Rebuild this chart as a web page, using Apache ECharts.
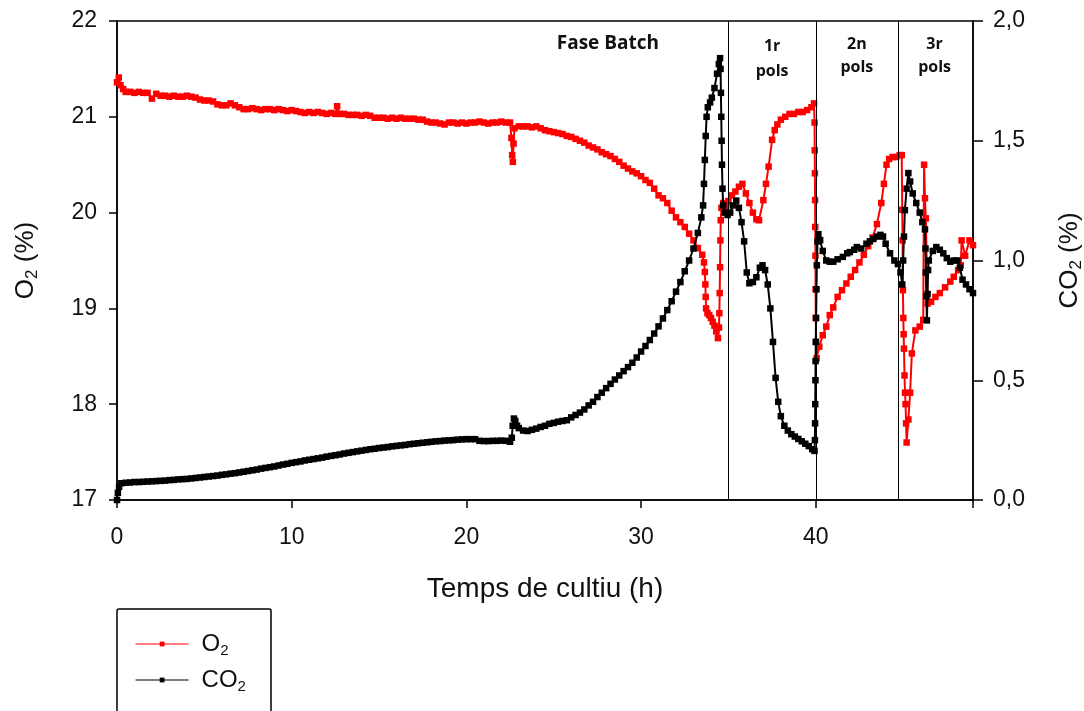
<!DOCTYPE html>
<html>
<head>
<meta charset="utf-8">
<script src="https://cdn.jsdelivr.net/npm/echarts@6/dist/echarts.min.js"></script>
<style>
html,body{margin:0;padding:0;background:#fff;overflow:hidden;}
#chart{width:1084px;height:711px;}
</style>
</head>
<body>
<div id="chart"></div>
<script>
// O2 (%) readings: [time (h), value]
const o2Data = [
[0,21.36],[0.1,21.41],[0.2,21.33],[0.35,21.29],[0.5,21.26],[0.75,21.26],[1.0,21.25],[1.25,21.26],[1.5,21.25],[1.75,21.25],
[2.0,21.19],[2.25,21.24],[2.5,21.22],[2.75,21.22],[3.0,21.21],[3.25,21.22],[3.5,21.21],[3.75,21.21],[4.0,21.22],[4.25,21.21],
[4.5,21.20],[4.75,21.18],[5.0,21.17],[5.25,21.17],[5.5,21.16],[5.75,21.13],[6.0,21.12],[6.25,21.12],[6.5,21.14],[6.75,21.12],
[7.0,21.10],[7.25,21.08],[7.5,21.08],[7.75,21.09],[8.0,21.08],[8.25,21.07],[8.5,21.08],[8.75,21.08],[9.0,21.07],[9.25,21.08],
[9.5,21.07],[9.75,21.06],[10.0,21.07],[10.25,21.06],[10.5,21.05],[10.75,21.04],[11.0,21.05],[11.25,21.04],[11.5,21.05],[11.75,21.04],
[12.0,21.03],[12.25,21.04],[12.5,21.03],[12.6,21.11],[12.75,21.03],[13.0,21.03],[13.25,21.02],[13.5,21.02],[13.75,21.02],[14.0,21.01],
[14.25,21.02],[14.5,21.01],[14.75,20.99],[15.0,20.99],[15.25,20.99],[15.5,20.98],[15.75,20.99],[16.0,20.98],[16.25,20.99],[16.5,20.98],
[16.75,20.98],[17.0,20.98],[17.25,20.97],[17.5,20.97],[17.75,20.95],[18.0,20.94],[18.25,20.94],[18.5,20.93],[18.75,20.92],[19.0,20.94],
[19.25,20.94],[19.5,20.93],[19.75,20.94],[20.0,20.93],[20.25,20.94],[20.5,20.94],[20.75,20.95],[21.0,20.94],[21.25,20.93],[21.5,20.94],
[21.75,20.94],[22.0,20.95],[22.25,20.94],[22.5,20.94],[22.58,20.78],[22.62,20.6],[22.66,20.53],[22.7,20.72],[22.75,20.88],[23.0,20.9],
[23.25,20.9],[23.5,20.9],[23.75,20.89],[24.0,20.9],[24.25,20.88],[24.5,20.86],[24.75,20.85],[25.0,20.84],[25.25,20.83],[25.5,20.82],
[25.75,20.8],[26.0,20.79],[26.25,20.77],[26.5,20.75],[26.75,20.73],[27.0,20.7],[27.25,20.68],[27.5,20.66],[27.75,20.63],[28.0,20.61],
[28.25,20.59],[28.5,20.56],[28.75,20.53],[29.0,20.49],[29.25,20.46],[29.5,20.43],[29.75,20.41],[30.0,20.38],[30.25,20.34],[30.5,20.31],
[30.75,20.25],[31.0,20.18],[31.25,20.15],[31.5,20.1],[31.75,20.02],[32.0,19.95],[32.25,19.9],[32.5,19.85],[32.75,19.78],[33.0,19.71],
[33.25,19.63],[33.5,19.56],[33.6,19.48],[33.65,19.38],[33.68,19.25],[33.7,19.12],[33.72,19.0],[33.8,18.95],[33.9,18.93],[34.0,18.9],
[34.1,18.86],[34.2,18.82],[34.3,18.76],[34.4,18.69],[34.46,18.8],[34.48,18.95],[34.5,19.16],[34.52,19.43],[34.54,19.71],[34.56,19.92],
[34.6,20.05],[34.7,20.1],[34.85,20.05],[35.0,20.12],[35.2,20.18],[35.4,20.22],[35.6,20.27],[35.8,20.3],[36.0,20.2],[36.2,20.1],
[36.4,20.0],[36.6,19.93],[36.75,19.92],[37.0,20.13],[37.15,20.3],[37.3,20.48],[37.5,20.76],[37.65,20.86],[37.8,20.92],[38.0,20.97],
[38.25,21.0],[38.5,21.03],[38.75,21.03],[39.0,21.05],[39.25,21.05],[39.5,21.07],[39.75,21.1],[39.9,21.14],[39.93,20.94],[39.94,20.65],
[39.95,20.41],[39.96,20.13],[39.97,19.85],[39.98,19.55],[39.99,19.2],[40.0,18.9],[40.02,18.65],[40.05,18.48],[40.2,18.6],[40.4,18.72],
[40.6,18.81],[40.8,18.93],[41.0,19.01],[41.25,19.12],[41.5,19.19],[41.75,19.26],[42.0,19.33],[42.25,19.4],[42.5,19.48],[42.75,19.56],
[43.0,19.65],[43.25,19.74],[43.5,19.88],[43.75,20.1],[43.9,20.3],[44.05,20.5],[44.2,20.56],[44.4,20.58],[44.6,20.58],[44.8,20.6],
[44.92,20.6],[44.95,20.03],[44.97,19.71],[44.99,19.19],[45.01,18.9],[45.03,18.73],[45.05,18.58],[45.08,18.3],[45.11,18.12],[45.14,18.0],
[45.17,17.8],[45.2,17.6],[45.3,17.84],[45.4,18.12],[45.5,18.53],[45.7,18.77],[45.95,18.81],[46.15,18.88],[46.2,20.5],[46.25,20.15],
[46.3,19.94],[46.4,19.05],[46.6,19.07],[46.85,19.12],[47.1,19.16],[47.4,19.22],[47.7,19.28],[47.9,19.33],[48.15,19.4],[48.3,19.45],
[48.35,19.71],[48.55,19.55],[48.8,19.71],[49.0,19.66]
];

// CO2 (%) readings: [time (h), value]
const co2Data = [
[0,0.0],[0.05,0.03],[0.12,0.055],[0.25,0.07],[0.5,0.072],[0.75,0.073],[1.0,0.075],[1.25,0.075],[1.5,0.076],[1.75,0.077],
[2.0,0.078],[2.25,0.079],[2.5,0.08],[2.75,0.081],[3.0,0.083],[3.25,0.084],[3.5,0.086],[3.75,0.087],[4.0,0.088],[4.25,0.09],
[4.5,0.092],[4.75,0.094],[5.0,0.096],[5.25,0.098],[5.5,0.1],[5.75,0.102],[6.0,0.105],[6.25,0.107],[6.5,0.11],[6.75,0.112],
[7.0,0.115],[7.25,0.118],[7.5,0.121],[7.75,0.124],[8.0,0.127],[8.25,0.131],[8.5,0.134],[8.75,0.137],[9.0,0.14],[9.25,0.144],
[9.5,0.148],[9.75,0.151],[10.0,0.155],[10.25,0.158],[10.5,0.161],[10.75,0.165],[11.0,0.168],[11.25,0.171],[11.5,0.174],[11.75,0.177],
[12.0,0.181],[12.25,0.184],[12.5,0.187],[12.75,0.19],[13.0,0.194],[13.25,0.197],[13.5,0.2],[13.75,0.203],[14.0,0.206],[14.25,0.209],
[14.5,0.212],[14.75,0.214],[15.0,0.217],[15.25,0.219],[15.5,0.221],[15.75,0.224],[16.0,0.226],[16.25,0.228],[16.5,0.23],[16.75,0.233],
[17.0,0.235],[17.25,0.237],[17.5,0.239],[17.75,0.241],[18.0,0.243],[18.25,0.245],[18.5,0.246],[18.75,0.248],[19.0,0.249],[19.25,0.25],
[19.5,0.252],[19.75,0.253],[20.0,0.254],[20.25,0.254],[20.5,0.254],[20.75,0.247],[21.0,0.246],[21.25,0.246],[21.5,0.247],[21.75,0.247],
[22.0,0.248],[22.25,0.247],[22.5,0.243],[22.6,0.26],[22.65,0.31],[22.72,0.34],[22.8,0.33],[22.9,0.31],[23.0,0.3],[23.25,0.29],
[23.5,0.288],[23.75,0.293],[24.0,0.298],[24.25,0.305],[24.5,0.31],[24.75,0.318],[25.0,0.322],[25.25,0.327],[25.5,0.33],[25.75,0.333],
[26.0,0.345],[26.25,0.355],[26.5,0.365],[26.75,0.378],[27.0,0.395],[27.25,0.41],[27.5,0.43],[27.75,0.448],[28.0,0.467],[28.25,0.485],
[28.5,0.503],[28.75,0.52],[29.0,0.538],[29.25,0.555],[29.5,0.573],[29.75,0.595],[30.0,0.62],[30.25,0.643],[30.5,0.668],[30.75,0.695],
[31.0,0.725],[31.25,0.758],[31.5,0.793],[31.75,0.83],[32.0,0.87],[32.25,0.91],[32.5,0.955],[32.75,1.0],[33.0,1.05],[33.25,1.115],
[33.45,1.18],[33.55,1.23],[33.6,1.32],[33.65,1.42],[33.7,1.52],[33.75,1.6],[33.82,1.64],[33.95,1.66],[34.05,1.68],[34.2,1.72],
[34.35,1.78],[34.45,1.82],[34.52,1.845],[34.55,1.8],[34.57,1.7],[34.59,1.6],[34.61,1.5],[34.63,1.4],[34.66,1.3],[34.7,1.23],
[34.8,1.2],[34.95,1.19],[35.1,1.2],[35.25,1.23],[35.45,1.25],[35.6,1.22],[35.75,1.16],[35.9,1.08],[36.05,0.95],[36.2,0.905],
[36.4,0.91],[36.6,0.93],[36.8,0.97],[36.95,0.98],[37.1,0.96],[37.25,0.9],[37.4,0.8],[37.55,0.66],[37.7,0.51],[37.85,0.41],
[38.0,0.35],[38.2,0.31],[38.4,0.29],[38.6,0.275],[38.8,0.265],[39.0,0.255],[39.2,0.245],[39.4,0.235],[39.6,0.225],[39.8,0.212],
[39.93,0.205],[39.95,0.25],[39.96,0.32],[39.97,0.4],[39.98,0.5],[39.99,0.58],[40.0,0.66],[40.02,0.76],[40.04,0.88],[40.06,0.98],
[40.1,1.08],[40.15,1.11],[40.25,1.085],[40.4,1.04],[40.6,1.0],[40.8,0.995],[41.0,0.995],[41.25,1.005],[41.55,1.015],[41.8,1.03],
[41.95,1.035],[42.2,1.045],[42.35,1.056],[42.6,1.05],[42.9,1.07],[43.1,1.08],[43.3,1.09],[43.5,1.1],[43.7,1.107],[43.85,1.1],
[44.0,1.07],[44.25,1.03],[44.5,1.0],[44.7,0.985],[44.85,0.95],[44.95,0.9],[45.0,1.0],[45.05,1.1],[45.1,1.21],[45.2,1.3],
[45.3,1.365],[45.4,1.33],[45.55,1.28],[45.75,1.24],[45.95,1.2],[46.1,1.16],[46.25,1.13],[46.28,1.05],[46.3,0.95],[46.33,0.85],
[46.36,0.75],[46.4,0.86],[46.43,0.96],[46.47,1.0],[46.7,1.04],[46.9,1.056],[47.1,1.045],[47.3,1.03],[47.5,1.01],[47.7,0.995],
[47.9,1.0],[48.1,1.0],[48.25,0.97],[48.4,0.92],[48.6,0.9],[48.8,0.88],[49.0,0.864]
];

// Phase boundaries (h) and phase labels [text, time (h), O2-axis value]
const phaseLines = [35, 40, 44.7];
const phaseLabels = [
  ['Fase Batch', 28.1, 21.76],
  ['1r', 37.5, 21.73], ['pols', 37.5, 21.47],
  ['2n', 42.35, 21.76], ['pols', 42.35, 21.52],
  ['3r', 46.8, 21.76], ['pols', 46.8, 21.52]
];
const xTicks = {min: 0, max: 49, interval: 10};
const o2Ticks = {min: 17, max: 22, interval: 1};
const co2Ticks = {min: 0, max: 2, interval: 0.5};

const FONT = '"Liberation Sans", Arial, sans-serif';
const chart = echarts.init(document.getElementById('chart'), null, {renderer: 'canvas', width: 1084, height: 711});

function nameRich(big, small) {
  return {
    fontFamily: FONT, color: '#111',
    rich: {
      n: {fontSize: big, fontFamily: FONT, color: '#111', lineHeight: big + 4},
      s: {fontSize: small, fontFamily: FONT, color: '#111', lineHeight: small, verticalAlign: 'bottom'}
    }
  };
}

const option = {
  animation: false,
  backgroundColor: '#fff',
  grid: {left: 117, right: 111, top: 21, bottom: 211, show: true, borderColor: '#000', borderWidth: 1.5,
    backgroundColor: 'transparent', containLabel: false, outerBoundsMode: 'none'},
  legend: {
    orient: 'vertical', left: 135, top: 632,
    padding: 0,
    itemGap: 10, itemWidth: 53, itemHeight: 6,
    data: ['O2', 'CO2'],
    formatter: function (n) { return n === 'O2' ? '{n|O}{s|2}' : '{n|CO}{s|2}'; },
    textStyle: Object.assign({padding: [0, 0, 0, 8]}, nameRich(24, 15)),
    lineStyle: {width: 1.2}
  },
  xAxis: {
    type: 'value', min: xTicks.min, max: xTicks.max, interval: xTicks.interval,
    name: 'Temps de cultiu (h)', nameLocation: 'middle', nameGap: 75,
    nameTextStyle: {fontFamily: FONT, fontSize: 28, color: '#111'},
    axisLine: {show: true, lineStyle: {color: '#000', width: 1.5}},
    axisTick: {show: true, inside: false, length: 8, lineStyle: {color: '#000', width: 1.5}},
    axisLabel: {fontFamily: FONT, fontSize: 23, color: '#111', margin: 26,
      formatter: function (v) { return (v % 10 === 0) ? String(v) : ''; }},
    splitLine: {show: false}
  },
  yAxis: [
    {
      type: 'value', min: o2Ticks.min, max: o2Ticks.max, interval: o2Ticks.interval, position: 'left',
      name: '{n|O}{s|2}{n| (%)}', nameLocation: 'middle', nameGap: 76, nameRotate: 90,
      nameTextStyle: nameRich(26, 17),
      axisLine: {show: true, lineStyle: {color: '#000', width: 1.5}},
      axisTick: {show: true, inside: false, length: 8, lineStyle: {color: '#000', width: 1.5}},
      axisLabel: {fontFamily: FONT, fontSize: 23, color: '#111', margin: 20},
      splitLine: {show: false}
    },
    {
      type: 'value', min: co2Ticks.min, max: co2Ticks.max, interval: co2Ticks.interval, position: 'right',
      name: '{n|CO}{s|2}{n| (%)}', nameLocation: 'middle', nameGap: 82, nameRotate: 90,
      nameTextStyle: nameRich(26, 17),
      axisLine: {show: true, lineStyle: {color: '#000', width: 1.5}},
      axisTick: {show: true, inside: false, length: 10, lineStyle: {color: '#000', width: 1.5}},
      axisLabel: {fontFamily: FONT, fontSize: 23, color: '#111', margin: 20,
        formatter: function (v) { return v.toFixed(1).replace('.', ','); }},
      splitLine: {show: false}
    }
  ],
  series: [
    {
      name: 'O2', type: 'line', yAxisIndex: 0, data: o2Data,
      symbol: 'rect', symbolSize: 6.5, showSymbol: true, showAllSymbol: true,
      lineStyle: {color: '#ff0000', width: 2},
      itemStyle: {color: '#ff0000'},
      markLine: {
        silent: true, symbol: ['none', 'none'],
        lineStyle: {color: '#000', width: 1, type: 'solid'},
        label: {show: false},
        data: phaseLines.map(function (t) { return {xAxis: t}; })
      },
      z: 2
    },
    {
      name: 'CO2', type: 'line', yAxisIndex: 1, data: co2Data,
      symbol: 'rect', symbolSize: 6.5, showSymbol: true, showAllSymbol: true,
      lineStyle: {color: '#000000', width: 2},
      itemStyle: {color: '#000000'},
      z: 3
    }
  ]
};
chart.setOption(option);

const gfx = phaseLabels.map(function (p) {
  const pt = chart.convertToPixel({xAxisIndex: 0, yAxisIndex: 0}, [p[1], p[2]]);
  const big = p[0] === 'Fase Batch';
  return {
    type: 'text', x: pt[0], y: pt[1], silent: true,
    style: {text: p[0], fill: '#111', font: 'bold ' + (big ? 19 : 16) + 'px "Open Sans", "Noto Sans", sans-serif',
      textAlign: 'center', textVerticalAlign: 'middle'}
  };
});
// legend frame (extends below the visible area, as in the reference)
gfx.push({type: 'rect', silent: true, z: -1,
  shape: {x: 117, y: 609, width: 154, height: 140, r: 2},
  style: {fill: 'none', stroke: '#000', lineWidth: 1.5}});
chart.setOption({graphic: gfx});
</script>
</body>
</html>
